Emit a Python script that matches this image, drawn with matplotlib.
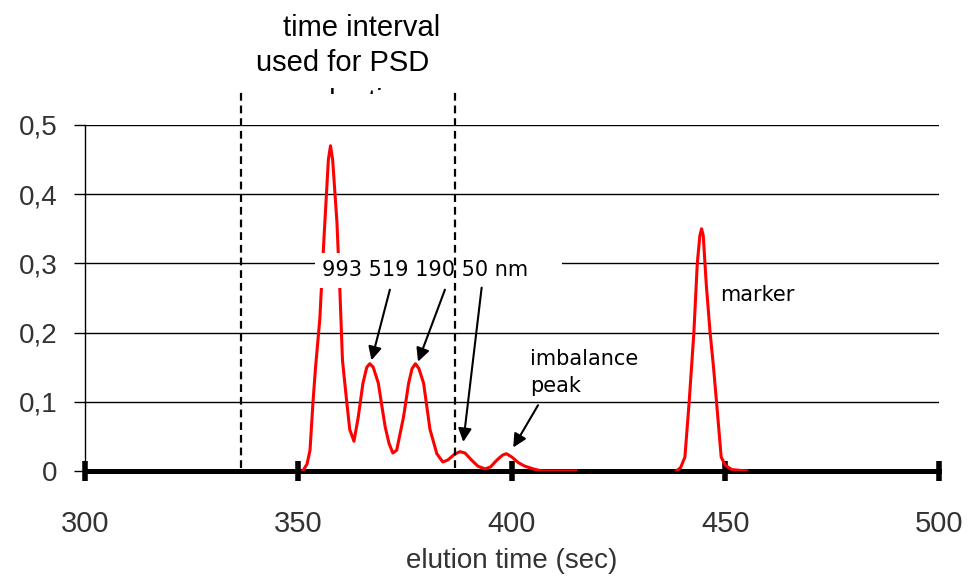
import matplotlib
matplotlib.use("Agg")
import matplotlib.pyplot as plt
from matplotlib.patches import Rectangle

# Sample fractogram (elution time in s, detector signal)
sample_time = [351, 352, 352.7, 353.4, 354, 355, 356, 357, 357.5, 358, 359, 359.7,
               360.3, 361.3, 362, 363, 364, 365.1, 366, 366.7, 367.5, 368.7, 369.5,
               370.3, 371.2, 372.1, 373, 374, 374.6, 375.8, 376.6, 377.4, 378.2,
               379.3, 380.8, 382.4, 383.8, 385, 386.5, 387.8, 389, 390.5, 392,
               393.7, 395, 396.5, 397.8, 398.7, 400, 401.5, 403, 405, 407, 415]
sample_signal = [0, 0.01, 0.03, 0.1, 0.15, 0.22, 0.34, 0.45, 0.47, 0.45, 0.36, 0.26,
                 0.16, 0.1, 0.06, 0.043, 0.078, 0.127, 0.15, 0.155, 0.15, 0.127, 0.095,
                 0.064, 0.04, 0.026, 0.03, 0.06, 0.078, 0.127, 0.148, 0.155, 0.148,
                 0.127, 0.06, 0.025, 0.013, 0.016, 0.024, 0.028, 0.026, 0.016, 0.007,
                 0.003, 0.006, 0.016, 0.023, 0.025, 0.02, 0.012, 0.007, 0.003, 0, 0]

# Marker peak
marker_time = [438.5, 439.5, 440.5, 441.5, 442.6, 443.4, 444, 444.4, 444.8, 445.5,
               446.4, 447.2, 447.9, 449, 450, 451.5, 455]
marker_signal = [0, 0.005, 0.02, 0.1, 0.2, 0.3, 0.34, 0.35, 0.34, 0.27, 0.2, 0.15,
                 0.1, 0.02, 0.008, 0.002, 0]

# PSD evaluation window
window_limits = [336.5, 386.6]

x_ticks = [300, 350, 400, 450, 500]
y_ticks = [0, 0.1, 0.2, 0.3, 0.4, 0.5]
y_tick_labels = ["0", "0,1", "0,2", "0,3", "0,4", "0,5"]

plt.rcParams["font.family"] = ["Liberation Sans", "DejaVu Sans"]

fig = plt.figure(figsize=(9.68, 5.76), dpi=100)
ax = fig.add_axes([0.0878, 0.1823, 0.8822, 0.6007])
ax.set_xlim(300, 500)
ax.set_ylim(0, 0.5)

# axes styling
for side in ["top", "right"]:
    ax.spines[side].set_visible(False)
ax.spines["left"].set_linewidth(1)
ax.spines["bottom"].set_linewidth(3.6)
ax.spines["bottom"].set_zorder(1.5)

ax.set_xticks(x_ticks)
ax.set_yticks(y_ticks)
ax.set_yticklabels(y_tick_labels)
ax.tick_params(axis="x", direction="inout", length=14, width=4, pad=21, labelsize=21,
               labelcolor="#333333")
ax.tick_params(axis="y", direction="out", length=8, width=1, pad=12, labelsize=20,
               labelcolor="#333333")
ax.yaxis.grid(True, color="black", lw=1)
ax.set_axisbelow(True)
ax.set_xlabel("elution time (sec)", fontsize=20, color="#333333", labelpad=7)

# curves
ax.plot(sample_time, sample_signal, color="red", lw=2.2, zorder=2)
ax.plot(marker_time, marker_signal, color="red", lw=2.2, zorder=2)

# dashed window lines
for xv in window_limits:
    ax.plot([xv, xv], [0.005, 0.553], color="black", lw=1.6, ls="--",
            dashes=(3.5, 2.2), clip_on=False, zorder=4)

# window caption (third line cut off like in the original)
ax.text(364.9, 0.640, "time interval", ha="center", va="center", fontsize=21,
        clip_on=False)
ax.text(360.4, 0.590, "used for PSD", ha="center", va="center", fontsize=21,
        clip_on=False)
t3 = ax.text(362, 0.5217, "evaluation", ha="center", va="baseline", fontsize=21,
             clip_on=True)
t3.set_clip_path(Rectangle((320, 0.5448), 80, 0.05, transform=ax.transData))

# size labels with white box hiding the grid line
ax.text(355.5, 0.29, "993 519 190 50 nm    ", ha="left", va="center",
        fontsize=15, family="DejaVu Sans",
        bbox=dict(boxstyle="square,pad=0.35", fc="white", ec="none"), zorder=3)

arrow_kw = dict(arrowstyle="-|>", color="black", lw=1.5, mutation_scale=20,
                shrinkA=0, shrinkB=0)
ax.annotate("", xy=(367.1, 0.16), xytext=(371.4, 0.262), arrowprops=arrow_kw, zorder=5)
ax.annotate("", xy=(378.0, 0.158), xytext=(384.3, 0.262), arrowprops=arrow_kw, zorder=5)
ax.annotate("", xy=(388.6, 0.042), xytext=(392.9, 0.265), arrowprops=arrow_kw, zorder=5)
ax.annotate("", xy=(400.3, 0.034), xytext=(406.1, 0.095), arrowprops=arrow_kw, zorder=5)

ax.text(404.2, 0.142, "imbalance\npeak", ha="left", va="center", fontsize=15,
        family="DejaVu Sans", linespacing=1.45)
ax.text(448.7, 0.254, "marker", ha="left", va="center", fontsize=15,
        family="DejaVu Sans")

fig.savefig("out.png", dpi=100)
